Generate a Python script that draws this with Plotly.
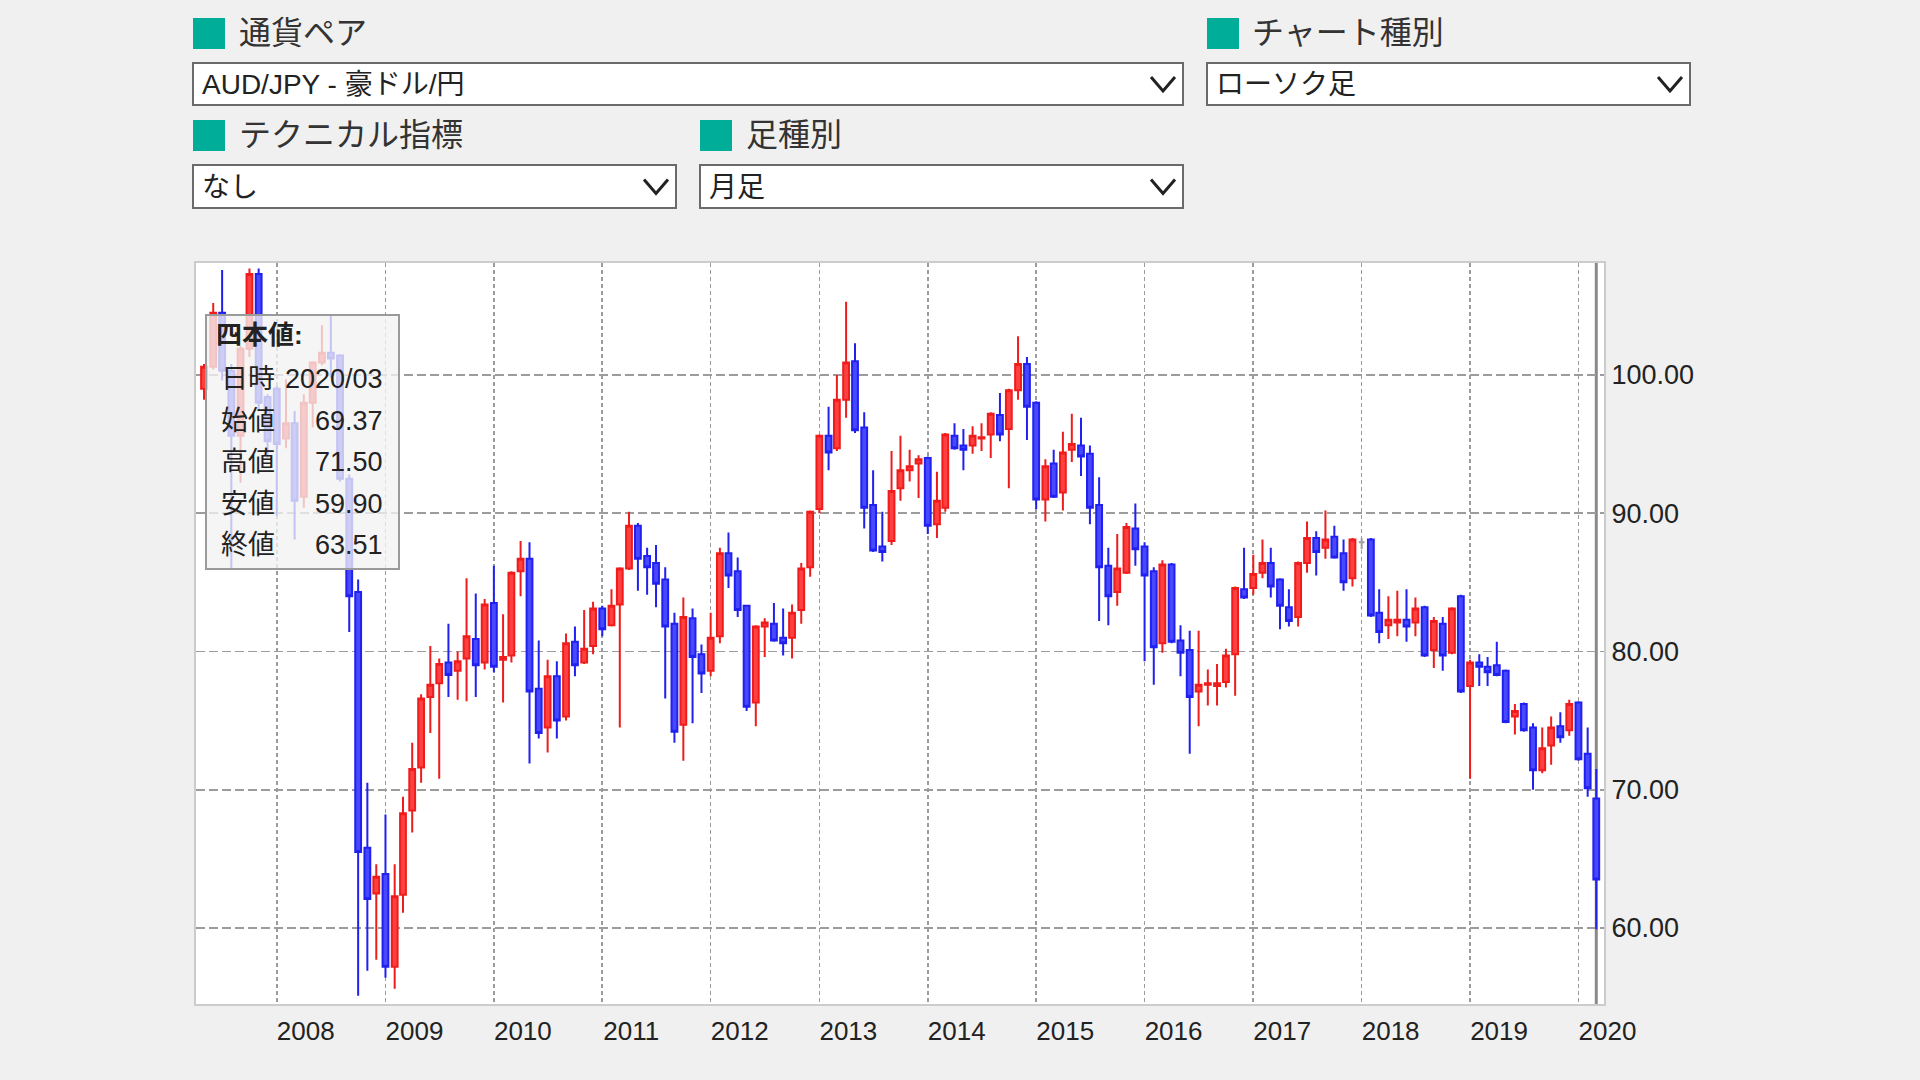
import plotly.graph_objects as go
import pandas as pd

# ---------------- data (monthly AUD/JPY) ----------------
START_MONTH = "2007-05-01"

OPEN = [
    99.0, 100.6, 104.5, 100.3, 95.6, 101.9, 107.3, 98.4,                      # 2007 (May-Dec)
    99.0, 95.4, 96.5, 91.2, 98.0, 100.9, 101.6, 101.4, 92.5, 84.3, 65.8, 62.5,  # 2008
    63.9, 57.2, 62.4, 68.5, 71.6, 76.7, 77.7, 79.2, 78.6, 79.5, 80.9, 79.2,     # 2009
    83.5, 79.4, 79.7, 85.8, 86.7, 77.3, 74.5, 78.2, 75.3, 80.7, 79.2, 80.4,     # 2010
    83.1, 81.9, 83.4, 86.0, 89.1, 86.9, 86.4, 85.2, 82.0, 74.7, 82.4, 79.8,     # 2011
    78.6, 81.1, 87.1, 85.8, 83.3, 76.3, 81.8, 82.0, 81.0, 81.0, 83.0, 86.1,     # 2012
    90.3, 95.6, 94.7, 98.2, 101.0, 96.2, 90.6, 87.6, 88.0, 91.8, 93.1, 93.6,    # 2013
    94.0, 89.2, 90.4, 95.6, 94.9, 94.9, 95.4, 95.7, 97.1, 96.1, 98.9, 100.8,    # 2014
    98.0, 91.0, 93.6, 91.5, 94.6, 94.9, 94.3, 90.6, 86.2, 84.3, 85.7, 88.9,     # 2015
    87.6, 85.8, 80.6, 86.3, 80.8, 80.1, 77.1, 77.6, 77.5, 77.8, 79.8, 84.5,     # 2016
    84.6, 85.7, 86.4, 85.2, 83.2, 82.5, 86.4, 88.2, 87.5, 88.3, 87.1, 85.3,     # 2017
    87.9, 88.1, 82.8, 81.9, 82.1, 82.3, 82.1, 83.2, 80.1, 82.0, 79.9, 84.0,     # 2018
    77.5, 79.2, 78.9, 79.0, 78.6, 75.3, 76.2, 74.5, 71.4, 73.2, 74.6, 74.3,     # 2019
    76.3, 72.6, 69.37,                                                         # 2020
]
HIGH = [
    100.8, 105.2, 107.6, 100.8, 102.1, 107.7, 107.7, 98.6,
    99.2, 99.7, 97.4, 98.6, 101.0, 103.6, 104.3, 101.5, 92.8, 85.2, 70.5, 64.6,
    68.2, 64.6, 69.5, 73.4, 76.9, 80.4, 79.5, 82.0, 80.0, 85.3, 84.2, 83.8,
    86.2, 82.7, 85.8, 88.0, 87.9, 80.8, 79.4, 79.3, 81.3, 81.8, 83.0, 83.6,
    83.3, 84.5, 86.1, 90.1, 89.3, 87.5, 87.7, 86.1, 82.8, 83.9, 83.1, 80.5,
    82.8, 87.5, 88.6, 86.8, 83.3, 81.9, 82.4, 83.5, 83.1, 83.4, 86.4, 90.2,
    95.7, 97.7, 100.0, 105.3, 102.3, 97.3, 93.1, 90.1, 94.5, 95.6, 94.6, 94.2,
    94.1, 93.0, 95.8, 96.5, 96.1, 96.3, 96.5, 97.3, 98.7, 99.0, 102.8, 101.3,
    98.1, 93.9, 94.6, 95.9, 97.2, 96.9, 94.9, 92.6, 87.5, 88.5, 89.3, 90.7,
    87.9, 86.1, 86.6, 86.4, 81.9, 81.5, 81.5, 78.7, 79.1, 80.2, 84.7, 87.5,
    87.0, 88.1, 87.5, 85.3, 84.5, 86.5, 89.4, 88.7, 90.2, 89.1, 88.1, 88.2,
    88.2, 88.2, 84.5, 84.0, 84.4, 84.5, 83.9, 83.3, 82.5, 82.5, 83.2, 84.1,
    79.4, 79.8, 79.6, 80.7, 78.7, 76.2, 76.3, 74.8, 74.5, 75.3, 75.6, 76.5,
    76.4, 74.5, 71.50,
]
LOW = [
    98.2, 100.4, 99.6, 86.0, 92.2, 101.3, 97.4, 94.0,
    89.8, 94.7, 88.1, 90.4, 96.2, 100.7, 99.8, 92.3, 81.4, 55.1, 56.9, 57.7,
    56.4, 55.6, 61.1, 66.9, 70.5, 74.1, 70.8, 76.7, 76.5, 76.4, 76.7, 78.7,
    78.5, 76.3, 79.2, 84.0, 71.9, 73.7, 72.7, 73.7, 75.0, 78.2, 79.1, 79.8,
    81.1, 81.8, 74.5, 85.9, 84.4, 84.1, 83.2, 76.6, 73.4, 72.1, 74.8, 77.0,
    78.2, 80.6, 84.6, 82.5, 75.7, 74.6, 79.6, 80.7, 79.7, 79.5, 82.0, 85.4,
    90.0, 93.1, 94.5, 96.9, 95.8, 88.9, 87.2, 86.5, 87.7, 90.9, 92.3, 91.1,
    88.5, 88.2, 90.1, 94.6, 93.1, 94.3, 94.5, 94.0, 95.2, 91.8, 98.2, 95.3,
    90.3, 89.4, 91.1, 90.2, 93.7, 92.7, 89.2, 82.2, 81.9, 83.3, 85.6, 86.2,
    79.3, 77.6, 79.9, 80.6, 78.2, 72.6, 74.6, 76.1, 76.1, 77.4, 76.8, 83.8,
    84.1, 85.3, 83.9, 81.6, 81.8, 81.8, 85.7, 85.5, 86.7, 86.7, 84.4, 84.7,
    87.4, 82.5, 80.6, 80.9, 81.1, 80.7, 81.1, 79.6, 78.8, 78.6, 79.8, 77.0,
    70.8, 77.5, 77.5, 78.2, 74.8, 74.0, 74.2, 70.0, 71.2, 71.8, 73.4, 73.9,
    72.1, 69.5, 59.90,
]
CLOSE = [
    100.6, 104.5, 100.3, 95.6, 101.9, 107.3, 98.0, 95.2,
    95.0, 96.5, 90.9, 98.0, 100.9, 101.6, 101.2, 92.5, 84.0, 65.5, 62.1, 63.7,
    57.2, 62.3, 68.3, 71.5, 76.6, 77.6, 79.1, 78.3, 79.3, 81.1, 79.0, 83.4,
    78.9, 79.6, 85.7, 86.7, 77.1, 74.1, 78.2, 75.0, 80.6, 79.0, 80.2, 83.1,
    81.6, 83.3, 86.0, 89.1, 86.7, 86.1, 84.9, 81.8, 74.2, 82.5, 79.6, 78.4,
    81.0, 87.1, 85.5, 83.0, 76.0, 81.8, 82.1, 80.8, 80.6, 82.8, 86.0, 90.1,
    95.6, 94.4, 98.2, 100.9, 96.0, 90.4, 87.3, 87.2, 91.6, 93.1, 93.4, 93.9,
    89.1, 90.9, 95.7, 94.7, 94.6, 95.6, 95.5, 97.2, 95.7, 98.9, 100.8, 97.7,
    91.0, 93.4, 91.2, 94.4, 95.0, 94.1, 90.4, 86.1, 84.0, 86.0, 89.0, 87.4,
    85.5, 80.3, 86.3, 80.7, 79.9, 76.7, 77.6, 77.7, 77.7, 79.7, 84.6, 83.9,
    85.6, 86.4, 84.7, 83.3, 82.2, 86.4, 88.2, 87.2, 88.1, 86.8, 85.0, 88.1,
    87.9, 82.6, 81.4, 82.3, 82.3, 81.8, 83.1, 79.7, 82.2, 79.7, 83.1, 77.1,
    79.2, 78.9, 78.5, 78.3, 74.9, 75.7, 74.3, 71.4, 73.0, 74.5, 73.8, 76.2,
    72.2, 70.1, 63.51,
]

Y_TICKS = [60, 70, 80, 90, 100]
Y_RANGE = [54.5, 108.1]
X_RANGE = ["2007-04-04", "2020-03-27"]
FIRST_YEAR_TICK = "2008-01-01"

PAIR_LABEL = "AUD/JPY - 豪ドル/円"
CHART_TYPE = "ローソク足"
INDICATOR = "なし"
PERIOD = "月足"
TOOLTIP_TITLE = "四本値:"
TOOLTIP_LABELS = ["日時", "始値", "高値", "安値", "終値"]

# ---------------- figure ----------------
MONTHS = pd.date_range(START_MONTH, periods=len(OPEN), freq="MS")
n = len(OPEN)
main_idx = [i for i in range(n) if OPEN[i] != CLOSE[i]]
doji_idx = [i for i in range(n) if OPEN[i] == CLOSE[i]]

FONT = "Liberation Sans, Arial, Noto Sans CJK JP, sans-serif"
W, H = 1920, 1080
PL, PR, PT, PB = 196, 1604, 263, 1004


def px(x):
    return (x - PL) / (PR - PL)


def py(y):
    return (PB - y) / (PB - PT)


def pick(arr, idx):
    return [arr[i] for i in idx]


fig = go.Figure()
fig.add_trace(go.Candlestick(
    x=pick(list(MONTHS), main_idx),
    open=pick(OPEN, main_idx), high=pick(HIGH, main_idx),
    low=pick(LOW, main_idx), close=pick(CLOSE, main_idx),
    increasing=dict(line=dict(color="#f01c1c", width=2), fillcolor="#ff4040"),
    decreasing=dict(line=dict(color="#2020f0", width=2), fillcolor="#4848ff"),
    whiskerwidth=0, hoverinfo="skip", showlegend=False,
))
if doji_idx:
    fig.add_trace(go.Candlestick(
        x=pick(list(MONTHS), doji_idx),
        open=pick(OPEN, doji_idx), high=pick(HIGH, doji_idx),
        low=pick(LOW, doji_idx), close=pick(CLOSE, doji_idx),
        increasing=dict(line=dict(color="#a0a0a0", width=2), fillcolor="#a0a0a0"),
        decreasing=dict(line=dict(color="#a0a0a0", width=2), fillcolor="#a0a0a0"),
        whiskerwidth=0, hoverinfo="skip", showlegend=False,
    ))

shapes = []
annotations = []

# crosshair on the last candle
shapes.append(dict(type="line", xref="x", yref="paper", x0=MONTHS[-1], x1=MONTHS[-1],
                   y0=0, y1=1, line=dict(color="#8a8a8a", width=3), layer="below"))

# ---- header controls ----
TEAL = "#00ad98"


def square(x0, y0):
    shapes.append(dict(type="rect", xref="paper", yref="paper",
                       x0=px(x0), x1=px(x0 + 32), y0=py(y0 + 31), y1=py(y0),
                       fillcolor=TEAL, line=dict(width=0), layer="above"))


def label(x, y, text, size=32, anchor="left", color="#333333", bold=False):
    annotations.append(dict(xref="paper", yref="paper", x=px(x), y=py(y),
                            xanchor=anchor, yanchor="middle", showarrow=False,
                            text=("<b>%s</b>" % text) if bold else text,
                            font=dict(size=size, color=color, family=FONT)))


def dropdown(x0, x1, y0, y1, text):
    shapes.append(dict(type="rect", xref="paper", yref="paper",
                       x0=px(x0), x1=px(x1), y0=py(y1), y1=py(y0),
                       fillcolor="white", line=dict(color="#6a6a6a", width=2), layer="above"))
    ym = (y0 + y1) / 2
    label(x0 + 7, ym + 1, text, size=28, color="#222222")
    cx = x1 - 20
    path = "M %f,%f L %f,%f L %f,%f" % (px(cx - 12), py(ym - 7), px(cx), py(ym + 7),
                                         px(cx + 12), py(ym - 7))
    shapes.append(dict(type="path", xref="paper", yref="paper", path=path,
                       line=dict(color="#222222", width=3), layer="above"))


square(193, 18)
label(237, 33, "通貨ペア")
square(1207, 18)
label(1250, 33, "チャート種別")
dropdown(193, 1183, 63, 105, PAIR_LABEL)
dropdown(1207, 1690, 63, 105, CHART_TYPE)
square(193, 120)
label(237, 135, "テクニカル指標")
square(700, 120)
label(744, 135, "足種別")
dropdown(193, 676, 165, 208, INDICATOR)
dropdown(700, 1183, 165, 208, PERIOD)

# ---- tooltip box ----
shapes.append(dict(type="rect", xref="paper", yref="paper",
                   x0=px(206), x1=px(399), y0=py(569), y1=py(315),
                   fillcolor="rgba(242,242,242,0.78)", line=dict(color="#9a9a9a", width=2),
                   layer="above"))
label(214, 335, TOOLTIP_TITLE, size=26, color="#222222", bold=True)
tip_values = [MONTHS[-1].strftime("%Y/%m"), "%.2f" % OPEN[-1], "%.2f" % HIGH[-1],
              "%.2f" % LOW[-1], "%.2f" % CLOSE[-1]]
for k, (lab, val) in enumerate(zip(TOOLTIP_LABELS, tip_values)):
    yy = 379 + k * 41.6
    label(219, yy, lab, size=27, color="#222222")
    label(385, yy, val, size=27, anchor="right", color="#222222")

fig.update_layout(
    width=W, height=H, autosize=False,
    margin=dict(l=PL, r=W - PR, t=PT, b=H - PB, pad=0),
    paper_bgcolor="#f0f0f0", plot_bgcolor="white",
    showlegend=False, hovermode=False, dragmode=False,
    boxgap=0.3, boxgroupgap=0,
    font=dict(family=FONT, size=26, color="#222222"),
    shapes=shapes, annotations=annotations,
    xaxis=dict(
        type="date", range=X_RANGE, tick0=FIRST_YEAR_TICK, dtick="M12", tickformat="%Y",
        showgrid=True, gridcolor="#9c9c9c", gridwidth=1.6, griddash="4px,3px",
        showline=True, mirror=True, linecolor="#cccccc", linewidth=2,
        ticks="", ticklabelshift=29, ticklabelstandoff=3,
        tickfont=dict(size=26, color="#222222", family=FONT),
        rangeslider=dict(visible=False), zeroline=False, fixedrange=True,
    ),
    yaxis=dict(
        side="right", range=Y_RANGE, tickvals=Y_TICKS, tickformat=".2f",
        showgrid=True, gridcolor="#9c9c9c", gridwidth=1.6, griddash="9px,4px",
        showline=True, mirror=True, linecolor="#cccccc", linewidth=2,
        ticks="", ticklabelstandoff=0,
        tickfont=dict(size=27, color="#222222", family=FONT),
        zeroline=False, fixedrange=True,
    ),
)

fig.write_html(
    "out.html",
    config={"displayModeBar": False, "staticPlot": True},
    post_script="document.body.style.margin='0';document.body.style.overflow='hidden';",
)
